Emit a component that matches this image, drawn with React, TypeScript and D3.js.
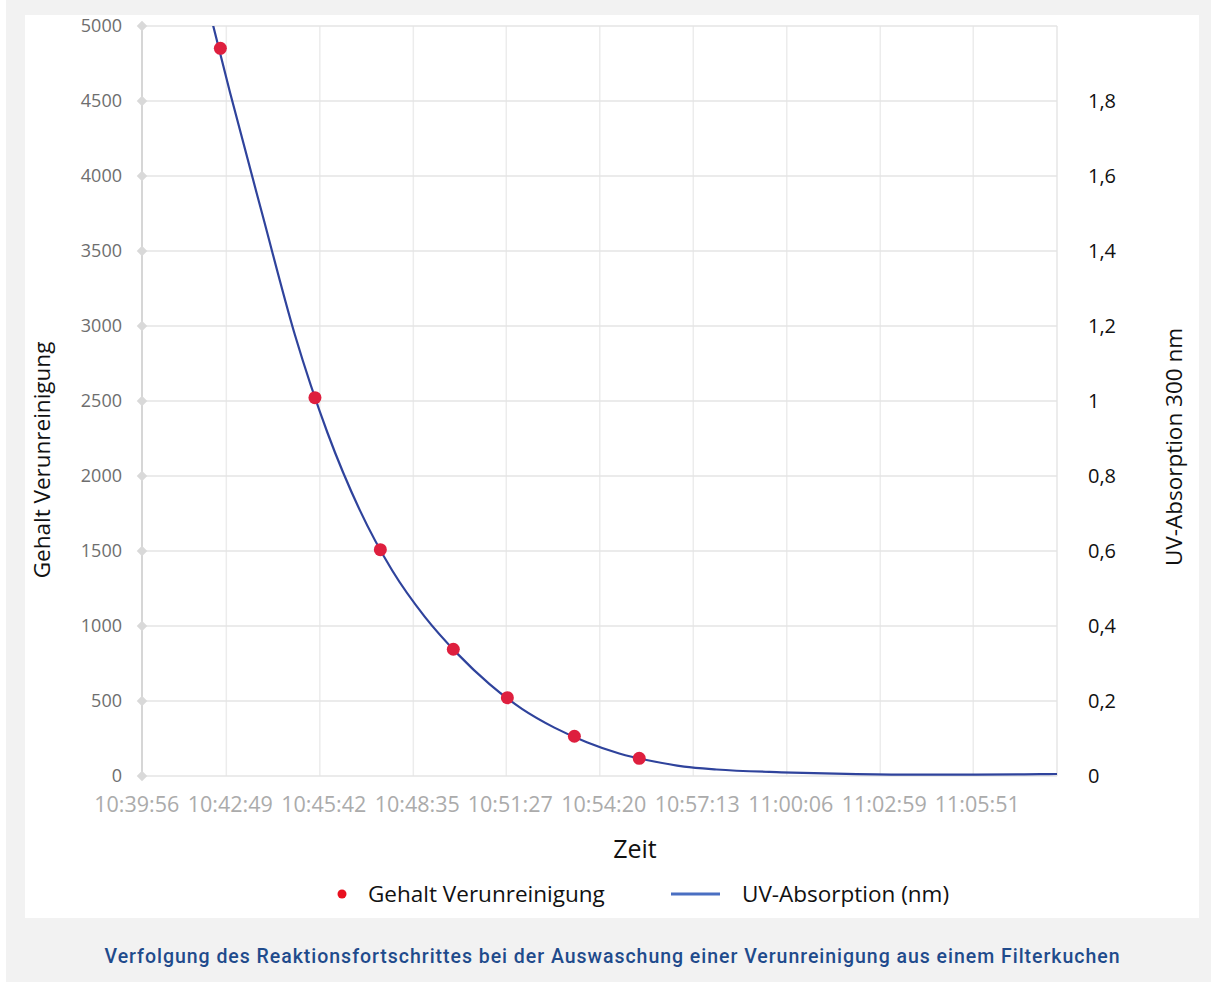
import * as React from "react";
import * as d3 from "d3";

// Gehalt Verunreinigung (Proben)
const sampleTimes = ["10:42:38", "10:45:33", "10:47:34", "10:49:49", "10:51:29", "10:53:33", "10:55:33"];
const sampleValues = [4851, 2522, 1509, 845, 522, 265, 118];

// UV-Absorption 300 nm
const uvTimes = [
  "10:42:11", "10:42:56", "10:43:56", "10:44:56", "10:45:56", "10:46:56", "10:47:56",
  "10:48:56", "10:49:56", "10:50:56", "10:51:56", "10:52:56", "10:53:56", "10:54:56",
  "10:55:56", "10:56:56", "10:57:56", "10:59:56", "11:01:56", "11:03:56", "11:05:56",
  "11:07:56", "11:08:26",
];
const uvValues = [
  2.079, 1.822, 1.496, 1.176, 0.916, 0.709, 0.548,
  0.425, 0.327, 0.245, 0.179, 0.129, 0.09, 0.06,
  0.04, 0.025, 0.0174, 0.0099, 0.0056, 0.0035, 0.0035,
  0.0048, 0.0053,
];

const xTickLabels = [
  "10:39:56", "10:42:49", "10:45:42", "10:48:35", "10:51:27",
  "10:54:20", "10:57:13", "11:00:06", "11:02:59", "11:05:51",
];
const xDomain = ["10:40:13", "11:08:26"];
const leftTicks = [0, 500, 1000, 1500, 2000, 2500, 3000, 3500, 4000, 4500, 5000];
const rightTicks = [0, 0.2, 0.4, 0.6, 0.8, 1, 1.2, 1.4, 1.6, 1.8];

const toSec = (s: string) => {
  const [h, m, sec] = s.split(":").map(Number);
  return h * 3600 + m * 60 + sec;
};

const W = 1211;
const H = 982;
const m = { left: 142, right: 1057, top: 26, bottom: 776 };
const FONT = "'Open Sans', sans-serif";

export default function App() {
  const x = d3.scaleLinear().domain(xDomain.map(toSec)).range([m.left, m.right]);
  const yL = d3.scaleLinear().domain([0, 5000]).range([m.bottom, m.top]);
  const yR = d3.scaleLinear().domain([0, 2]).range([m.bottom, m.top]);

  const uv = uvTimes.map((t, i) => ({ t: toSec(t), v: uvValues[i] }));
  const line = d3
    .line<{ t: number; v: number }>()
    .x((d) => x(d.t))
    .y((d) => yR(d.v))
    .curve(d3.curveMonotoneX);

  const fmtR = (v: number) => String(+v.toFixed(1)).replace(".", ",");
  const diamond = d3.symbol().type(d3.symbolDiamond2).size(70)();

  return (
    <svg width={W} height={H} style={{ position: "absolute", left: 0, top: 0 }} fontFamily={FONT}>
      <defs>
        <clipPath id="plot">
          <rect x={m.left} y={m.top} width={m.right - m.left} height={m.bottom - m.top} />
        </clipPath>
      </defs>
      <rect x={0} y={0} width={W} height={H} fill="#fff" />
      <rect x={6} y={0} width={W - 6} height={H} fill="#f2f2f2" />
      <rect x={25} y={15} width={1174} height={903} fill="#fff" />

      {/* vertical grid */}
      {xTickLabels.map((lab, i) => {
        const px = x(toSec(lab));
        if (px <= m.left + 1) return null;
        return <line key={"vg" + i} x1={px} x2={px} y1={m.top} y2={m.bottom} stroke="#ececec" strokeWidth={1.5} />;
      })}
      <line x1={m.right} x2={m.right} y1={m.top} y2={m.bottom} stroke="#e6e6e6" strokeWidth={1.5} />

      {/* horizontal grid */}
      {leftTicks.map((t) => (
        <line key={"hg" + t} x1={m.left} x2={m.right} y1={yL(t)} y2={yL(t)} stroke="#e4e4e4" strokeWidth={1.5} />
      ))}

      {/* left axis */}
      <line x1={m.left} x2={m.left} y1={m.top} y2={m.bottom} stroke="#d6d6d6" strokeWidth={2} />
      {leftTicks.map((t) => (
        <g key={"lt" + t}>
          <path d={diamond!} transform={`translate(${m.left},${yL(t)})`} fill="#d9d9d9" />
          <text x={122} y={yL(t)} dy="0.35em" textAnchor="end" fontSize={18} fill="#6e6e6e">
            {t}
          </text>
        </g>
      ))}

      {/* right axis labels */}
      {rightTicks.map((t) => (
        <text key={"rt" + t} x={1088} y={yR(t)} dy="0.35em" fontSize={20} fill="#111">
          {fmtR(t)}
        </text>
      ))}

      {/* x labels */}
      {xTickLabels.map((lab, i) => (
        <text key={"xl" + i} x={x(toSec(lab)) + 4} y={812} textAnchor="middle" fontSize={21.5} fill="#ababab">
          {lab}
        </text>
      ))}

      {/* series */}
      <g clipPath="url(#plot)">
        <path d={line(uv)!} fill="none" stroke="#2f439c" strokeWidth={2.2} />
      </g>
      {sampleTimes.map((t, i) => (
        <circle key={"pt" + i} cx={x(toSec(t))} cy={yL(sampleValues[i])} r={6.5} fill="#de1f3e" />
      ))}

      {/* axis titles */}
      <text transform="translate(50,460) rotate(-90)" textAnchor="middle" fontSize={22.5} fill="#111">
        Gehalt Verunreinigung
      </text>
      <text transform="translate(1182,447) rotate(-90)" textAnchor="middle" fontSize={22.5} fill="#111">
        UV-Absorption 300 nm
      </text>
      <text x={635} y={858} textAnchor="middle" fontSize={25} fill="#111">
        Zeit
      </text>

      {/* legend */}
      <circle cx={342} cy={894} r={4.5} fill="#e8101f" />
      <text x={368} y={894} dy="0.35em" fontSize={22.5} fill="#111">
        Gehalt Verunreinigung
      </text>
      <line x1={671} x2={720} y1={894} y2={894} stroke="#4a6fc2" strokeWidth={3} />
      <text x={742} y={894} dy="0.35em" fontSize={22.5} fill="#111">
        UV-Absorption (nm)
      </text>

      {/* caption */}
      <text
        x={612}
        y={956}
        dy="0.35em"
        textAnchor="middle"
        fontFamily="Roboto, sans-serif"
        fontWeight={500}
        fontSize={19.5}
        fill="#1f4b8c"
        textLength={1015}
        lengthAdjust="spacing"
      >
        Verfolgung des Reaktionsfortschrittes bei der Auswaschung einer Verunreinigung aus einem Filterkuchen
      </text>
    </svg>
  );
}
